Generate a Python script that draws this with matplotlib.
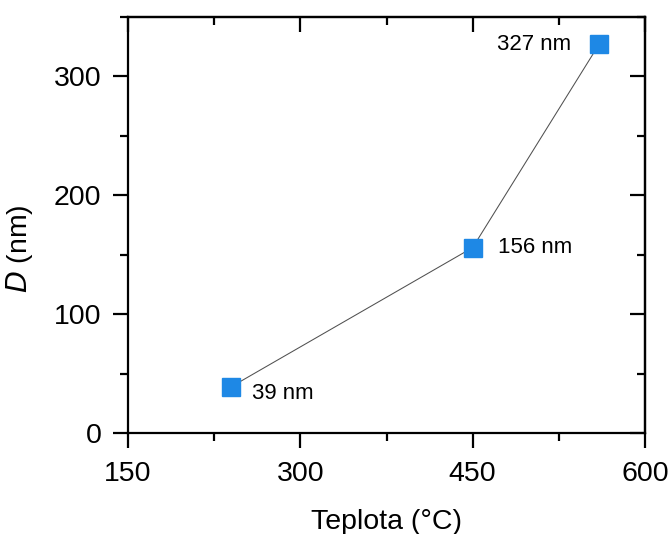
import matplotlib
matplotlib.use("Agg")
import matplotlib.pyplot as plt
from matplotlib.ticker import MultipleLocator

temperatures = [240, 450, 560]
diameters = [39, 156, 327]
labels = ["39 nm", "156 nm", "327 nm"]

plt.rcParams['font.family'] = ['Liberation Sans', 'DejaVu Sans']

fig = plt.figure(figsize=(6.71, 5.34), dpi=100)
ax = fig.add_axes([128 / 671, 1 - 433 / 534, (645 - 128) / 671, (433 - 17) / 534])

ax.plot(temperatures, diameters, color="#505050", linewidth=0.75, zorder=2)
ax.plot(temperatures, diameters, linestyle="none", marker="s", markersize=13,
        color="#1E88E5", markeredgecolor="#1E88E5", zorder=3)

# etiquettes a cote des points
offsets = [(15, -5, "left"), (18, 0, "left"), (-20, 0, "right")]
for x, y, txt, (dx, dy, ha) in zip(temperatures, diameters, labels, offsets):
    ax.annotate(txt, (x, y), xytext=(dx, dy), textcoords="offset points",
                ha=ha, va="center", fontsize=16)

ax.set_xlim(150, 600)
ax.set_ylim(0, 350)
ax.xaxis.set_major_locator(MultipleLocator(150))
ax.xaxis.set_minor_locator(MultipleLocator(75))
ax.yaxis.set_major_locator(MultipleLocator(100))
ax.yaxis.set_minor_locator(MultipleLocator(50))

for s in ax.spines.values():
    s.set_linewidth(1.6)

ax.tick_params(axis="both", which="major", direction="out", length=11, width=1.6,
               labelsize=20.5)
ax.tick_params(axis="both", which="minor", direction="out", length=6, width=1.6)
ax.tick_params(axis="x", which="major", pad=9)
ax.tick_params(axis="y", which="major", pad=8)

# ticks vers l'interieur en haut et a droite
ax2 = ax.secondary_xaxis("top")
ax2.xaxis.set_major_locator(MultipleLocator(150))
ax2.xaxis.set_minor_locator(MultipleLocator(75))
ax2.tick_params(which="major", direction="in", length=11, width=1.6, labeltop=False)
ax2.tick_params(which="minor", direction="in", length=6, width=1.6)
ax2.spines["top"].set_linewidth(1.6)

ay2 = ax.secondary_yaxis("right")
ay2.yaxis.set_major_locator(MultipleLocator(100))
ay2.yaxis.set_minor_locator(MultipleLocator(50))
ay2.tick_params(which="major", direction="in", length=11, width=1.6, labelright=False)
ay2.tick_params(which="minor", direction="in", length=6, width=1.6)
ay2.spines["right"].set_linewidth(1.6)

ax.set_xlabel("Teplota (°C)", fontsize=20.5, labelpad=16)
ax.set_ylabel("$\\mathit{D}$ (nm)", fontsize=20.5)
ax.yaxis.set_label_coords(-0.18, 0.442)

plt.savefig("out.png", dpi=100)
